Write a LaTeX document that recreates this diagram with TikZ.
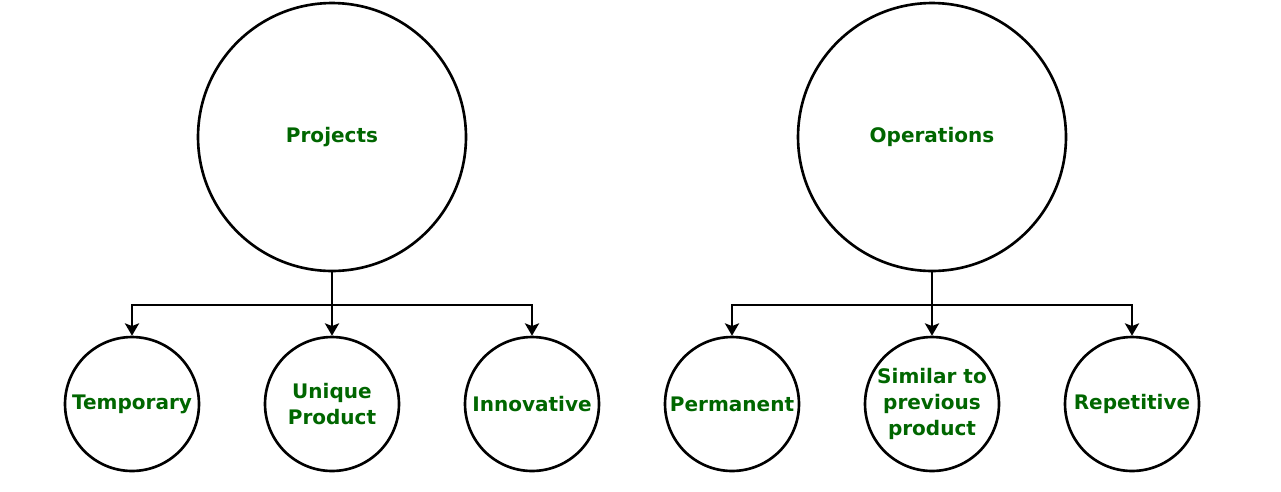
\documentclass[tikz,border=0pt]{standalone}
\usepackage{fontspec}
\setsansfont{DejaVu Sans}
\usetikzlibrary{arrows,arrows.meta}

\definecolor{labelgreen}{RGB}{0,102,0}

\tikzset{
    bigcirc/.style={circle, draw, line width=1.5pt, minimum size=5.36cm, inner sep=0pt,
        font=\sffamily\bfseries\fontsize{11.4}{14.8}\selectfont, text=labelgreen, align=center},
    smallcirc/.style={bigcirc, minimum size=2.68cm},
    branch/.style={line width=1.5pt}
}

\begin{document}
\begin{tikzpicture}[>={Stealth[length=7pt,width=8pt,inset=1.5pt]}, x=0.02cm, y=-0.02cm]
    \useasboundingbox (0,0) rectangle (1281,491);

    % top circles
    \node[bigcirc] (proj) at (332,137) {Projects};
    \node[bigcirc] (oper) at (932,137) {Operations};

    % leaves
    \node[smallcirc] (temp)  at (132,404) {Temporary};
    \node[smallcirc] (uniq)  at (332,404) {Unique\\Product};
    \node[smallcirc] (innov) at (532,404) {Innovative};

    \node[smallcirc] (perm)  at (732,404) {Permanent};
    \node[smallcirc, inner sep=-10pt] (simil) at (932,404) {Similar to\\previous\\product};
    \node[smallcirc] (repet) at (1132,404) {Repetitive};

    \coordinate (pj) at (332,305);
    \coordinate (op) at (932,305);

    \draw[branch] (proj.south) -- (pj);
    \draw[branch,->] (pj) -| (temp.north);
    \draw[branch,->] (pj) -- (uniq.north);
    \draw[branch,->] (pj) -| (innov.north);

    \draw[branch] (oper.south) -- (op);
    \draw[branch,->] (op) -| (perm.north);
    \draw[branch,->] (op) -- (simil.north);
    \draw[branch,->] (op) -| (repet.north);
\end{tikzpicture}
\end{document}
